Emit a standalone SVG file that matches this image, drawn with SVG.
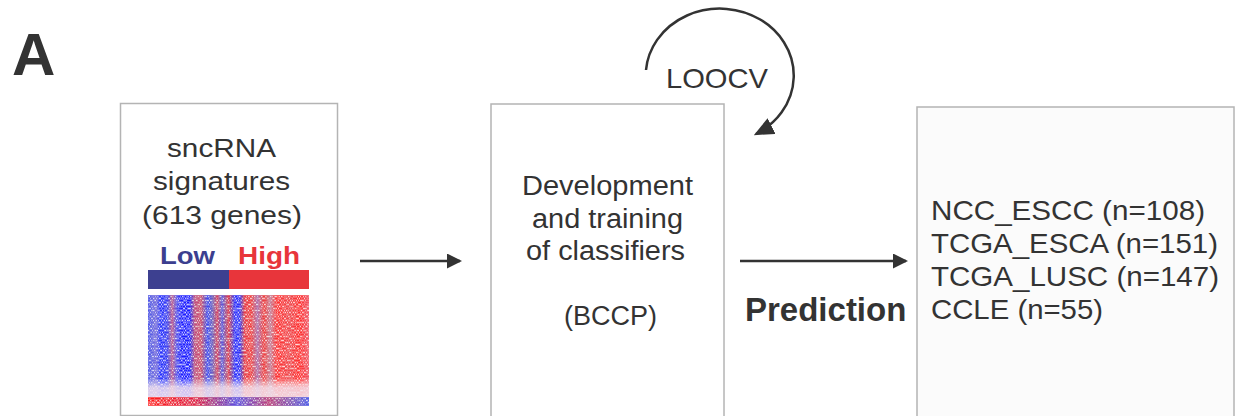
<svg xmlns="http://www.w3.org/2000/svg" width="1235" height="416" viewBox="0 0 1235 416">
<style>
  .box { fill:#ffffff; stroke:#b4b4b4; stroke-width:1.5; }
  .t { font-family:"Liberation Sans", Arial, sans-serif; fill:#333333; }
  .conn { stroke:#333333; stroke-width:2.5; fill:none; }
</style>
<defs>
  <marker id="ah" markerWidth="6" markerHeight="6" refX="5.2" refY="3" orient="auto" markerUnits="strokeWidth">
    <path d="M0,0 L6,3 L0,6 Z" fill="#333333"/>
  </marker>
  <marker id="ah2" markerWidth="8" markerHeight="7" refX="7" refY="3.5" orient="auto" markerUnits="strokeWidth">
    <path d="M0,0 L8,3.5 L0,7 Z" fill="#333333"/>
  </marker>
  <linearGradient id="hm" gradientUnits="userSpaceOnUse" x1="148" y1="0" x2="309" y2="0">
    <stop offset="0" stop-color="#4a55e8"/>
    <stop offset="0.05" stop-color="#7a70dd"/>
    <stop offset="0.08" stop-color="#2030ff"/>
    <stop offset="0.12" stop-color="#3a40f0"/>
    <stop offset="0.15" stop-color="#c05a90"/>
    <stop offset="0.18" stop-color="#5050f0"/>
    <stop offset="0.21" stop-color="#1a1aff"/>
    <stop offset="0.26" stop-color="#2020ff"/>
    <stop offset="0.29" stop-color="#c04a80"/>
    <stop offset="0.33" stop-color="#d05070"/>
    <stop offset="0.37" stop-color="#3a4af0"/>
    <stop offset="0.40" stop-color="#7060c0"/>
    <stop offset="0.43" stop-color="#d84060"/>
    <stop offset="0.46" stop-color="#5a5ae0"/>
    <stop offset="0.50" stop-color="#e03a50"/>
    <stop offset="0.54" stop-color="#2a30ff"/>
    <stop offset="0.57" stop-color="#3030f8"/>
    <stop offset="0.60" stop-color="#e83a48"/>
    <stop offset="0.64" stop-color="#f04040"/>
    <stop offset="0.68" stop-color="#b070b0"/>
    <stop offset="0.72" stop-color="#f03a3a"/>
    <stop offset="0.76" stop-color="#c8809a"/>
    <stop offset="0.80" stop-color="#ff3030"/>
    <stop offset="0.88" stop-color="#f04a50"/>
    <stop offset="0.94" stop-color="#ff2a2a"/>
    <stop offset="1" stop-color="#f05a6a"/>
  </linearGradient>
  <linearGradient id="fade" x1="0" y1="0" x2="0" y2="1">
    <stop offset="0" stop-color="#ffffff" stop-opacity="0"/>
    <stop offset="0.5" stop-color="#f4e4ee" stop-opacity="0.8"/>
    <stop offset="1" stop-color="#f4e4ee" stop-opacity="0.85"/>
  </linearGradient>
  <linearGradient id="bot" gradientUnits="userSpaceOnUse" x1="148" y1="0" x2="309" y2="0">
    <stop offset="0" stop-color="#ff1a1a"/>
    <stop offset="0.3" stop-color="#e02050"/>
    <stop offset="0.55" stop-color="#6050e0"/>
    <stop offset="0.75" stop-color="#c04080"/>
    <stop offset="1" stop-color="#5060e8"/>
  </linearGradient>
  <filter id="grain" x="0" y="0" width="1" height="1">
    <feTurbulence type="fractalNoise" baseFrequency="1.0 0.5" numOctaves="2" seed="4" result="n"/>
    <feColorMatrix in="n" type="matrix" values="0 0 0 0 1  0 0 0 0 1  0 0 0 0 1  0 0 0 -2.5 1.35" result="w"/>
    <feMerge><feMergeNode in="SourceGraphic"/><feMergeNode in="w"/></feMerge>
  </filter>
</defs>

<text class="t" x="12" y="75" font-size="60" font-weight="bold">A</text>

<g id="node-signatures">
  <rect class="box" x="120.5" y="103.5" width="217" height="312"/>
  <text class="t" font-size="26.5" x="167" y="157" textLength="109" lengthAdjust="spacingAndGlyphs">sncRNA</text>
  <text class="t" font-size="26.5" x="153" y="190" textLength="137" lengthAdjust="spacingAndGlyphs">signatures</text>
  <text class="t" font-size="26.5" x="142" y="224" textLength="160" lengthAdjust="spacingAndGlyphs">(613 genes)</text>
  <text x="160" y="264" font-family="Liberation Sans, Arial, sans-serif" font-size="24" font-weight="bold" fill="#3c3f8f" textLength="55" lengthAdjust="spacingAndGlyphs">Low</text>
  <text x="238" y="264" font-family="Liberation Sans, Arial, sans-serif" font-size="24" font-weight="bold" fill="#e8353b" textLength="62" lengthAdjust="spacingAndGlyphs">High</text>
  <rect x="148" y="270" width="81" height="19" fill="#3d4090"/>
  <rect x="229" y="270" width="80" height="19" fill="#e8353b"/>
  <g id="heatmap">
    <rect x="148" y="295" width="161" height="111" fill="url(#hm)" filter="url(#grain)"/>
    <rect x="148" y="378" width="161" height="19" fill="url(#fade)"/>
    <rect x="148" y="397" width="161" height="9" fill="url(#bot)" filter="url(#grain)"/>
  </g>
</g>

<g id="node-classifiers">
  <rect class="box" x="491" y="104" width="233" height="330"/>
  <text class="t" font-size="27" x="522" y="195" textLength="171" lengthAdjust="spacingAndGlyphs">Development</text>
  <text class="t" font-size="27" x="532" y="228" textLength="151" lengthAdjust="spacingAndGlyphs">and training</text>
  <text class="t" font-size="27" x="526" y="260" textLength="159" lengthAdjust="spacingAndGlyphs">of classifiers</text>
  <text class="t" font-size="27" x="564" y="325" textLength="93" lengthAdjust="spacingAndGlyphs">(BCCP)</text>
</g>

<g id="node-datasets">
  <rect class="box" x="917" y="107" width="317" height="330" style="fill:#fbfbfb"/>
  <text class="t" font-size="28.5" x="931" y="220" textLength="274" lengthAdjust="spacingAndGlyphs">NCC_ESCC (n=108)</text>
  <text class="t" font-size="28.5" x="931" y="253" textLength="287" lengthAdjust="spacingAndGlyphs">TCGA_ESCA (n=151)</text>
  <text class="t" font-size="28.5" x="931" y="286" textLength="288" lengthAdjust="spacingAndGlyphs">TCGA_LUSC (n=147)</text>
  <text class="t" font-size="28.5" x="931" y="319" textLength="172" lengthAdjust="spacingAndGlyphs">CCLE (n=55)</text>
</g>

<g id="connectors">
  <line class="conn" x1="360" y1="261" x2="460" y2="261" marker-end="url(#ah)"/>
  <line class="conn" x1="740" y1="261" x2="906" y2="261" marker-end="url(#ah)"/>
  <path class="conn" d="M646,70 A74,67 0 1 1 756,134" marker-end="url(#ah2)"/>
  <text class="t" x="666" y="88" font-size="28" textLength="102" lengthAdjust="spacingAndGlyphs">LOOCV</text>
  <text class="t" x="745" y="321" font-size="33" font-weight="bold">Prediction</text>
</g>
</svg>
